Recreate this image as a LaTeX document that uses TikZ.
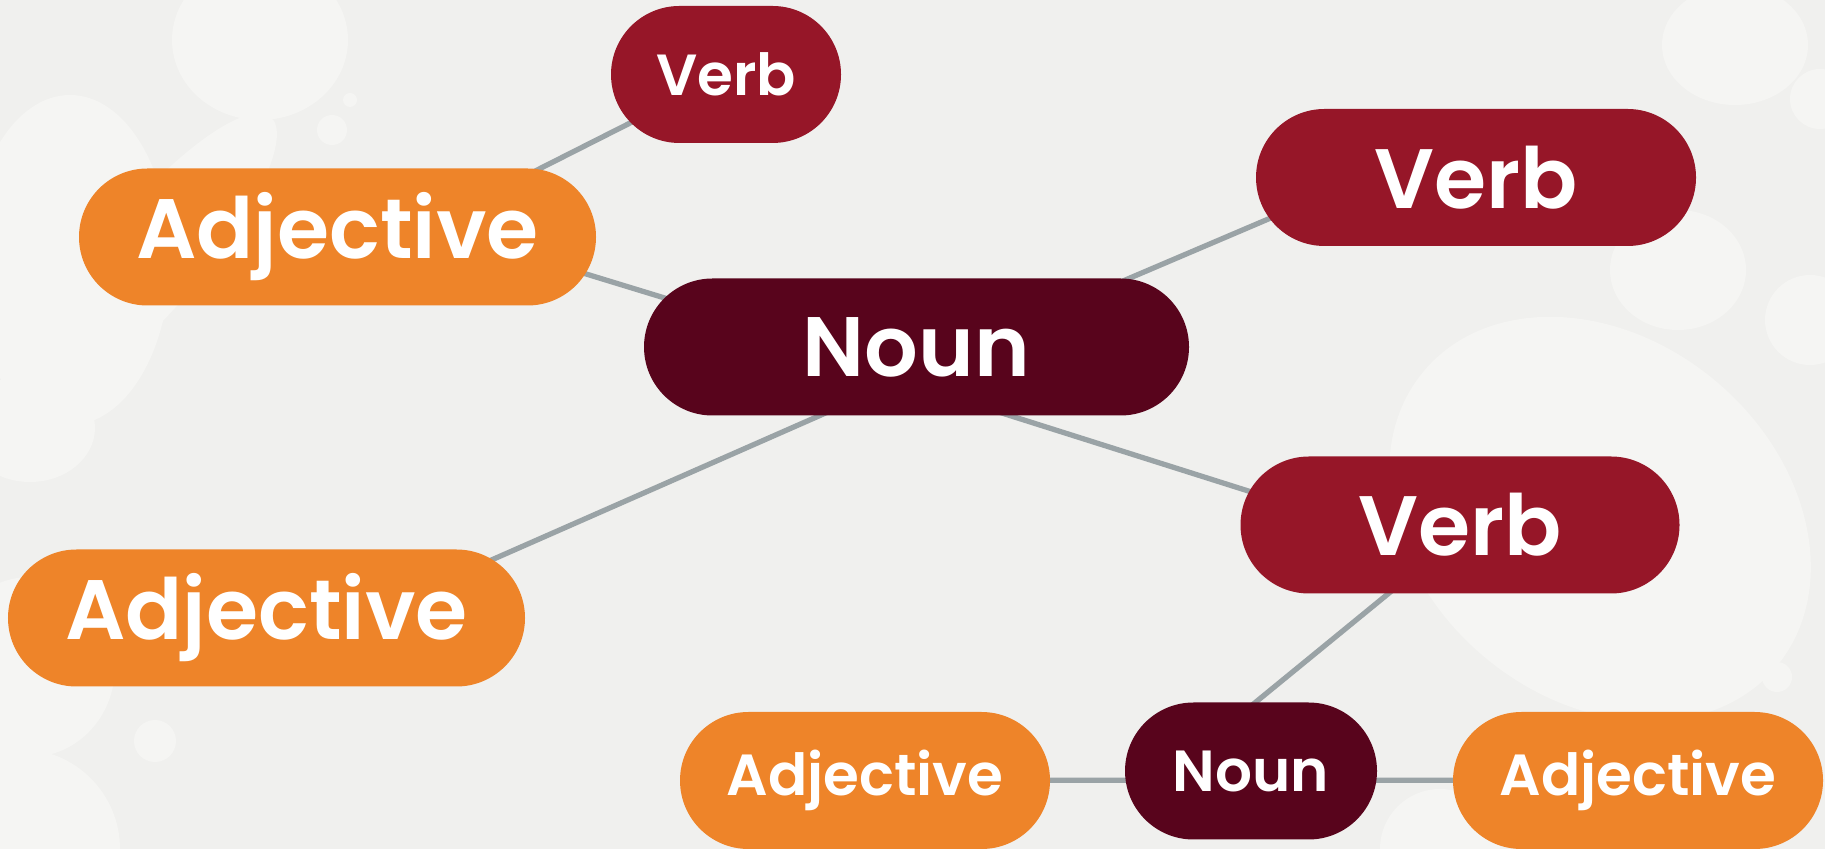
\documentclass[tikz,border=0pt]{standalone}
\usepackage{fontspec}
\setmainfont{Poppins SemiBold}
\usetikzlibrary{%
  shapes.misc,% wg. rounded rectangle
  positioning,%
  calc%
}
\definecolor{bggray}{HTML}{F0F0EE}
\definecolor{blobwhite}{HTML}{F5F5F3}
\definecolor{adjorange}{HTML}{EE8429}
\definecolor{verbred}{HTML}{961628}
\definecolor{nounmaroon}{HTML}{58041C}
\definecolor{linkgray}{HTML}{9AA3A6}
\pgfdeclarelayer{back}
\pgfdeclarelayer{links}
\pgfsetlayers{back,links,main}

\begin{document}
\begin{tikzpicture}[
  word/.style={rounded rectangle, inner sep=0pt, minimum height=13.7mm, text=white, font=\fontsize{24}{28}\selectfont},
  smallword/.style={word, font=\fontsize{16.5}{20}\selectfont},
  adj/.style={fill=adjorange},
  verb/.style={fill=verbred},
  noun/.style={fill=nounmaroon},
  link/.style={draw=linkgray, line width=1.5pt},
  blob/.style={fill=blobwhite}
]

\useasboundingbox (0,0) rectangle (18.25,8.49);

% words
\node[word, verb, smallword, minimum width=23mm] (verbA) at (7.26,7.745) {Verb};
\node[word, adj, minimum width=51.7mm] (adjA) at (3.375,6.12) {Adjective};
\node[word, verb, minimum width=44mm] (verbB) at (14.76,6.715) {Verb};
\node[word, noun, minimum width=54.5mm] (nounA) at (9.165,5.02) {Noun};
\node[word, verb, minimum width=43.9mm] (verbC) at (14.60,3.24) {Verb};
\node[word, adj, minimum width=51.7mm] (adjB) at (2.665,2.31) {Adjective};
\node[word, adj, smallword, minimum width=37mm] (adjC) at (8.65,0.685) {Adjective};
\node[word, noun, smallword, minimum width=25.2mm] (nounB) at (12.51,0.78) {Noun};
\node[word, adj, smallword, minimum width=37mm] (adjD) at (16.38,0.685) {Adjective};

% links
\begin{pgfonlayer}{links}
\draw[link] (verbA.center) -- ([yshift=-3.4mm]adjA.center);
\draw[link] ([yshift=3.9mm]adjA.center) -- ([yshift=-2.8mm]nounA.center);
\draw[link] ([yshift=-2.2mm]nounA.center) -- ([yshift=4.7mm]verbB.center);
\draw[link] ([yshift=-3.9mm]nounA.center) -- ([yshift=-3.3mm]verbC.center);
\draw[link] ([yshift=-2.6mm]nounA.center) -- ([yshift=-4.1mm]adjB.center);
\draw[link] ([yshift=-1mm]verbC.center) -- ([yshift=6.5mm]nounB.center);
\draw[link] ([yshift=-0.9mm]nounB.center) -- (adjC.center);
\draw[link] ([yshift=-0.9mm]nounB.center) -- (adjD.center);
\end{pgfonlayer}

% background
\begin{pgfonlayer}{back}
\fill[bggray] (0,0) rectangle (18.25,8.49);
\begin{scope}
\clip (0,0) rectangle (18.25,8.49);
\fill[blob] (2.60,8.09) ellipse (0.88 and 0.80);
\fill[blob] (0.70,5.89) ellipse (1.0 and 1.65);
\fill[blob, rotate around={50:(1.55,5.94)}] (1.55,5.94) ellipse (1.8 and 0.5);
\fill[blob] (0.30,4.21) ellipse (0.65 and 0.54);
\fill[blob] (3.50,7.49) circle (0.07);
\fill[blob] (3.32,7.19) circle (0.15);
\fill[blob] (0.30,1.82) ellipse (0.85 and 0.90);
\fill[blob] (0.20,0.0) circle (1.0);
\fill[blob] (1.55,1.08) circle (0.21);
\fill[blob] (17.35,8.04) ellipse (0.73 and 0.60);
\fill[blob] (18.2,7.5) circle (0.3);
\fill[blob] (16.78,5.79) ellipse (0.68 and 0.60);
\fill[blob] (18.1,5.29) circle (0.45);
\fill[blob, rotate around={-40:(16.0,3.3)}] (16.0,3.3) ellipse (2.3 and 1.8);
\fill[blob] (17.52,2.34) circle (0.45);
\fill[blob] (17.77,1.72) circle (0.15);
\fill[blob] (14.4,0.0) circle (0.6);
\end{scope}
\end{pgfonlayer}
\end{tikzpicture}
\end{document}
